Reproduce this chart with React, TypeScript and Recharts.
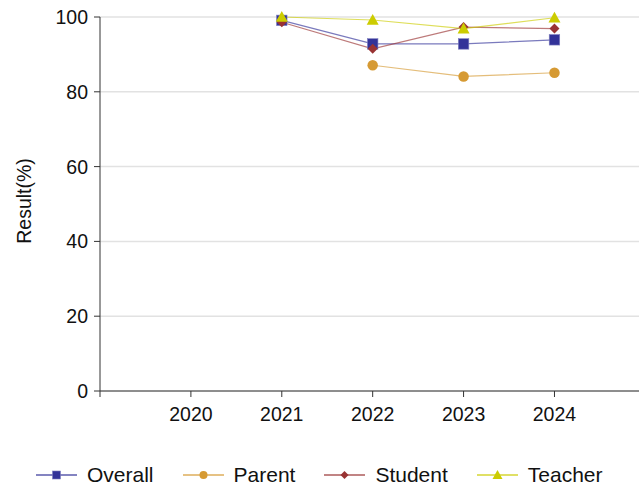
import { LineChart, Line, XAxis, YAxis, CartesianGrid, Legend } from 'recharts'

const years = [2021, 2022, 2023, 2024]
const overall = [99.1, 92.8, 92.8, 93.9]
const parent = [null, 87.1, 84.1, 85.1]
const student = [98.6, 91.5, 97.3, 96.9]
const teacher = [100, 99.2, 96.9, 99.8]

const xTicks = [2019, 2020, 2021, 2022, 2023, 2024]
const yTicks = [0, 20, 40, 60, 80, 100]

const FONT = '"Liberation Sans", Arial, sans-serif'

type Shape = 'square' | 'circle' | 'diamond' | 'triangle'

const series: { key: string; name: string; color: string; shape: Shape }[] = [
  { key: 'overall', name: 'Overall', color: '#333399', shape: 'square' },
  { key: 'parent', name: 'Parent', color: '#D69A33', shape: 'circle' },
  { key: 'student', name: 'Student', color: '#993333', shape: 'diamond' },
  { key: 'teacher', name: 'Teacher', color: '#CCCC00', shape: 'triangle' },
]

const data = years.map((year, i) => ({
  year,
  overall: overall[i],
  parent: parent[i],
  student: student[i],
  teacher: teacher[i],
}))

function Marker({ shape, cx, cy, size, color }: { shape: Shape; cx: number; cy: number; size: number; color: string }) {
  const h = size / 2
  if (shape === 'square') {
    return <rect x={cx - h} y={cy - h} width={size} height={size} fill={color} stroke='#8080c0' strokeWidth={0.6} />
  }
  if (shape === 'circle') {
    return <circle cx={cx} cy={cy} r={h} fill={color} />
  }
  if (shape === 'diamond') {
    return <polygon points={`${cx},${cy - h} ${cx + h},${cy} ${cx},${cy + h} ${cx - h},${cy}`} fill={color} />
  }
  return <polygon points={`${cx},${cy - h} ${cx + h},${cy + h * 0.8} ${cx - h},${cy + h * 0.8}`} fill={color} />
}

function makeDot(shape: Shape, color: string, size: number) {
  return (p: any) => {
    if (p.cx == null || p.cy == null || p.value == null) return <g key={`${shape}-${p.index}`} />
    return (
      <g key={`${shape}-${p.index}`}>
        <Marker shape={shape} cx={p.cx} cy={p.cy} size={size} color={color} />
      </g>
    )
  }
}

function LegendContent() {
  return (
    <div style={{ display: 'flex', alignItems: 'center', height: 30, fontFamily: FONT, fontSize: 21, color: '#111' }}>
      {series.map((s) => (
        <div key={s.key} style={{ display: 'flex', alignItems: 'center', marginRight: 29 }}>
          <svg width={41} height={14} style={{ marginRight: 10 }}>
            <line x1={0} y1={7} x2={41} y2={7} stroke={s.color} strokeWidth={1.5} strokeOpacity={0.8} />
            <Marker shape={s.shape} cx={20.5} cy={7} size={s.shape === 'triangle' ? 10 : 8} color={s.color} />
          </svg>
          <span>{s.name}</span>
        </div>
      ))}
    </div>
  )
}

export default function App() {
  return (
    <div style={{ position: 'absolute', left: 0, top: 0, background: '#fff' }}>
      <LineChart width={639} height={488} data={data} margin={{ top: 17, right: 0, left: 0, bottom: 27 }}>
        <CartesianGrid horizontal vertical={false} stroke='#e2e2e2' strokeWidth={1.5} />
        <XAxis
          dataKey='year'
          type='number'
          domain={[2019, 2024.93]}
          ticks={xTicks}
          tickFormatter={(v) => (v === 2019 ? '' : String(v))}
          height={40}
          tickSize={6}
          tickMargin={10}
          stroke='#333'
          tick={{ fontSize: 19.5, fill: '#111', fontFamily: FONT }}
        />
        <YAxis
          domain={[0, 100]}
          ticks={yTicks}
          width={100}
          tickSize={6}
          tickMargin={6}
          stroke='#333'
          tick={{ fontSize: 19.5, fill: '#111', fontFamily: FONT }}
          label={() => (
            <text x={31} y={201} transform='rotate(-90 31 201)' textAnchor='middle' fontSize={19.5} fill='#111' fontFamily={FONT}>
              Result(%)
            </text>
          )}
        />
        <Legend content={<LegendContent />} wrapperStyle={{ top: 460, left: 36, bottom: 'auto', width: 'auto' }} />
        {series.map((s) => (
          <Line
            key={s.key}
            dataKey={s.key}
            name={s.name}
            stroke={s.color}
            strokeOpacity={0.65}
            strokeWidth={1.2}
            type='linear'
            dot={makeDot(s.shape, s.color, s.shape === 'triangle' ? 12 : s.shape === 'diamond' ? 10 : 10.5)}
            activeDot={false}
            isAnimationActive={false}
          />
        ))}
      </LineChart>
    </div>
  )
}
